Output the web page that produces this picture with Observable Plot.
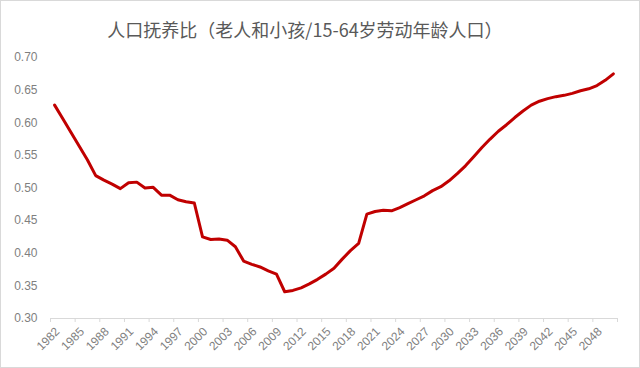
<!DOCTYPE html>
<html>
<head>
<meta charset="utf-8">
<script src="https://cdn.jsdelivr.net/npm/d3@7"></script>
<script src="https://cdn.jsdelivr.net/npm/@observablehq/plot@0.6"></script>
<style>
  html, body { margin: 0; padding: 0; background: #fff; }
  #wrap { width: 638px; height: 366px; border: 1px solid #d9d9d9; position: relative; overflow: hidden; }
  #title { height: 44px; line-height: 32px; padding-top: 12px; font-family: "Noto Sans CJK SC", sans-serif; font-size: 18px; color: #595959; text-align: center; padding-right: 30px; box-sizing: border-box; }
  svg { display: block; }
</style>
</head>
<body>
<div id="wrap">
  <div id="title">人口抚养比（老人和小孩/15-64岁劳动年龄人口）</div>
  <div id="chart"></div>
</div>
<script>
const years = [1982,1983,1984,1985,1986,1987,1988,1989,1990,1991,1992,1993,1994,1995,1996,1997,1998,1999,
  2000,2001,2002,2003,2004,2005,2006,2007,2008,2009,2010,2011,2012,2013,2014,2015,2016,2017,2018,2019,
  2020,2021,2022,2023,2024,2025,2026,2027,2028,2029,2030,2031,2032,2033,2034,2035,2036,2037,2038,2039,
  2040,2041,2042,2043,2044,2045,2046,2047,2048,2049,2050];
const ratio = [0.627,0.606,0.585,0.564,0.543,0.519,0.512,0.506,0.499,0.508,0.509,0.500,0.501,0.489,0.489,0.482,0.479,0.477,
  0.425,0.421,0.422,0.420,0.410,0.388,0.383,0.379,0.373,0.368,0.341,0.343,0.347,0.353,0.360,0.368,0.377,0.391,0.404,0.415,
  0.460,0.464,0.466,0.465,0.470,0.476,0.482,0.488,0.496,0.502,0.511,0.522,0.534,0.548,0.562,0.575,0.587,0.597,0.608,0.618,
  0.627,0.633,0.637,0.640,0.642,0.645,0.649,0.652,0.657,0.665,0.675];
const xLabelYears = [1982,1985,1988,1991,1994,1997,2000,2003,2006,2009,2012,2015,2018,2021,2024,2027,2030,2033,2036,2039,2042,2045,2048];
const yTicks = [0.30,0.35,0.40,0.45,0.50,0.55,0.60,0.65,0.70];

const data = years.map((yr, i) => ({year: yr, value: ratio[i]}));
const xBounds = xLabelYears.map(y => y - 0.5).concat([years[years.length - 1] + 0.5]);

const chart = Plot.plot({
  width: 638,
  height: 322,
  marginTop: 12,
  marginBottom: 49,
  marginLeft: 49,
  marginRight: 22,
  style: {fontFamily: "'Liberation Sans', Arial, sans-serif", fontSize: "12px", color: "#7f7f7f", background: "#fff"},
  x: {domain: [years[0] - 0.5, years[years.length - 1] + 0.5]},
  y: {domain: [0.30, 0.70]},
  marks: [
    Plot.axisY({ticks: yTicks, tickSize: 0, tickPadding: 13, tickFormat: d3.format(".2f"), label: null, fill: "#7f7f7f", fontSize: 12}),
    Plot.ruleY([0.30], {stroke: "#d9d9d9", strokeWidth: 1}),
    Plot.axisX({ticks: xBounds, tickSize: 4, tickFormat: () => "", stroke: "#d9d9d9", label: null}),
    Plot.axisX({ticks: xLabelYears, tickSize: 0, tickPadding: 11, dx: 3, tickRotate: -45, tickFormat: d => String(d), label: null, fill: "#7f7f7f", fontSize: 12}),
    Plot.line(data, {x: "year", y: "value", stroke: "#c00000", strokeWidth: 3, strokeLinejoin: "round", strokeLinecap: "round"})
  ]
});
document.getElementById("chart").appendChild(chart);
</script>
</body>
</html>
